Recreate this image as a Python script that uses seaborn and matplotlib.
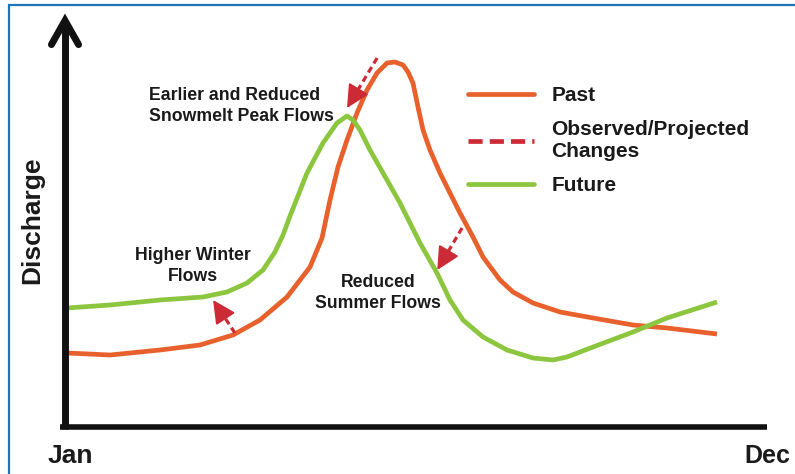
import matplotlib
matplotlib.use("Agg")
import matplotlib.pyplot as plt
from matplotlib.lines import Line2D
from matplotlib.patches import Rectangle
import seaborn as sns
import pandas as pd

# ---- data (month position, relative discharge) ----
past_month = [0.034, 0.763, 1.610, 2.288, 2.847, 3.305, 3.763, 4.153, 4.356, 4.492, 4.627, 4.780,
              4.949, 5.119, 5.288, 5.458, 5.593, 5.729, 5.814, 5.898, 5.983, 6.068, 6.186, 6.356,
              6.525, 6.695, 6.915, 7.085, 7.373, 7.593, 7.932, 8.390, 8.949, 9.627, 10.203, 11.051]
past_q = [18.5, 18.0, 19.25, 20.5, 23.0, 26.75, 32.5, 40.0, 47.25, 56.75, 65.0, 71.75,
          78.5, 84.25, 88.5, 91.0, 91.25, 90.5, 88.75, 86.0, 80.0, 74.25, 69.25, 63.5,
          58.5, 53.5, 47.5, 42.5, 36.75, 33.75, 31.0, 28.75, 27.25, 25.5, 24.75, 23.25]
future_month = [0.034, 0.763, 1.610, 2.339, 2.746, 3.085, 3.356, 3.559, 3.695, 3.814, 4.102, 4.373,
                4.610, 4.780, 4.881, 5.0, 5.169, 5.390, 5.678, 5.966, 6.017, 6.305, 6.525, 6.746,
                7.085, 7.492, 7.932, 8.271, 8.508, 8.949, 9.627, 10.203, 11.051]
future_q = [29.75, 30.5, 31.75, 32.5, 33.75, 36.0, 39.25, 43.75, 48.0, 52.75, 63.5, 71.0,
            76.0, 77.75, 76.75, 74.25, 69.25, 63.5, 56.0, 47.5, 46.0, 38.5, 31.75, 26.75,
            22.5, 19.25, 17.25, 16.75, 17.5, 20.0, 23.75, 27.25, 31.25]

series_names = ["Past", "Future"]
change_label = "Observed/Projected\nChanges"
x_tick_labels = ["Jan", "Dec"]
y_label = "Discharge"

# change arrows: (start month, start q, end month, end q)
arrow_start_month = [5.29, 6.73, 2.88]
arrow_start_q = [92.25, 49.75, 23.5]
arrow_end_month = [4.78, 6.31, 2.51]
arrow_end_q = [79.75, 39.25, 31.75]

notes = ["Earlier and Reduced\nSnowmelt Peak Flows", "Higher Winter\nFlows", "Reduced\nSummer Flows"]
note_month = [1.424, 2.17, 5.305]
note_q = [80.25, 40.25, 33.5]
note_ha = ["left", "center", "center"]

ORANGE = "#E8612C"
GREEN = "#8CC63F"
RED = "#CC2B36"
BLUE = "#1B75BC"

sns.set_theme(style="white")
plt.rcParams["font.family"] = ["Liberation Sans", "DejaVu Sans"]
plt.rcParams["font.weight"] = "bold"

df = pd.DataFrame({
    "month": past_month + future_month,
    "q": past_q + future_q,
    "series": [series_names[0]] * len(past_month) + [series_names[1]] * len(future_month),
})

fig = plt.figure(figsize=(7.95, 4.74), dpi=100)
ax = fig.add_axes([0, 0, 1, 1])
ax.set_xlim(-65 / 59, 730 / 59)
ax.set_ylim(-11.75, 106.75)
ax.axis("off")

sns.lineplot(data=df, x="month", y="q", hue="series", sort=False,
             palette={series_names[0]: ORANGE, series_names[1]: GREEN},
             lw=3.4, ax=ax, legend=False, solid_joinstyle="round", solid_capstyle="butt")

# axes lines
ax.plot([-0.085, 11.9], [0, 0], color="#111111", lw=4.0, solid_capstyle="butt")
ax.plot([0, 0], [-0.6, 101.0], color="#111111", lw=5.0, solid_capstyle="butt")
ax.plot([-0.23, 0, 0.23], [95.6, 101.6, 95.6], color="#111111", lw=5.0,
        solid_capstyle="round", solid_joinstyle="miter")

# change arrows
for sx, sy, ex, ey in zip(arrow_start_month, arrow_start_q, arrow_end_month, arrow_end_q):
    fx = sx + (ex - sx) * 0.62
    fy = sy + (ey - sy) * 0.62
    ax.plot([sx, fx], [sy, fy], color=RED, lw=2.3, ls=(0, (2.0, 1.3)), solid_capstyle="butt")
    ax.annotate("", xy=(ex, ey), xytext=(fx, fy),
                arrowprops=dict(arrowstyle="-|>,head_length=1.0,head_width=0.5",
                                color=RED, lw=1.5, shrinkA=0, shrinkB=0, mutation_scale=14))

# notes
for t, x, y, ha in zip(notes, note_month, note_q, note_ha):
    ax.text(x, y, t, ha=ha, va="center", multialignment=ha, fontsize=12.7,
            fontweight="bold", color="#1a1a1a", linespacing=1.25)

ax.text(-0.56, 51.75, y_label, rotation=90, ha="center", va="center", fontsize=19,
        fontweight="bold", color="#1a1a1a")
ax.text(0.085, -7.25, x_tick_labels[0], ha="center", va="center", fontsize=19,
        fontweight="bold", color="#1a1a1a")
ax.text(11.9, -7.25, x_tick_labels[1], ha="center", va="center", fontsize=18,
        fontweight="bold", color="#1a1a1a")

# legend
handles = [Line2D([], [], color=ORANGE, lw=3.4),
           Line2D([], [], color=RED, lw=3.4, ls=(0, (3.0, 1.5))),
           Line2D([], [], color=GREEN, lw=3.4)]
labels = [series_names[0], change_label, series_names[1]]
leg = ax.legend(handles, labels, loc="upper left", bbox_to_anchor=(468 / 795, 1 - 86 / 474),
                bbox_transform=fig.transFigure, frameon=False, handlelength=3.15,
                handletextpad=0.85, labelspacing=0.7, borderpad=0, borderaxespad=0,
                prop={"size": 15, "weight": "bold"})
for t in leg.get_texts():
    t.set_color("#1a1a1a")
    t.set_linespacing(1.25)

# blue frame
fig.patches.append(Rectangle((8.5 / 795, -0.2), 1.2, 1.2 - 4.5 / 474,
                             transform=fig.transFigure, fill=False, edgecolor=BLUE, lw=1.6))

fig.savefig("out.png", dpi=100)
